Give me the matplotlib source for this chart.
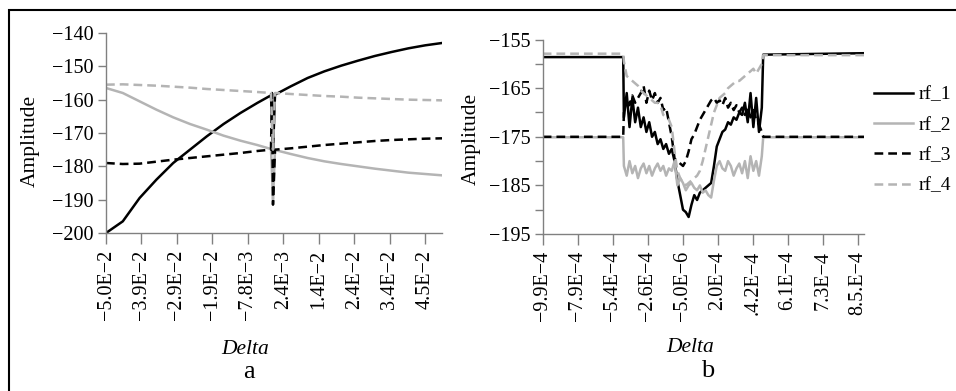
import numpy as np
import matplotlib
matplotlib.use("Agg")
import matplotlib.pyplot as plt
from matplotlib.patches import Rectangle

# --- Style ---
plt.rcParams['font.family'] = ['Liberation Serif', 'DejaVu Serif']
plt.rcParams['axes.unicode_minus'] = True
BLACK = '#000000'
GRAY = '#b4b4b4'
SPINE = '#808080'
LABELS = ["rf_1", "rf_2", "rf_3", "rf_4"]

# --- Panel a data (Delta, Amplitude) ---
a_x = [-0.05, -0.045, -0.04, -0.035, -0.03, -0.025, -0.02, -0.015, -0.01, -0.005,
       -0.0009, -0.0006, -0.0003, 0.0003,
       0.005, 0.01, 0.015, 0.02, 0.025, 0.03, 0.035, 0.04, 0.045, 0.05]
a_rf1 = [-200, -196.5, -189.5, -184, -179, -175, -171, -167.3, -164, -161,
         -158.7, -166, -175.5, -158.5,
         -156, -153.5, -151.5, -149.8, -148.3, -146.9, -145.7, -144.6, -143.7, -143]
a_rf2 = [-156.5, -158, -160.5, -163, -165.3, -167.3, -169, -170.8, -172.3, -173.6,
         -174.8, -182, -190, -175.1,
         -176.3, -177.5, -178.5, -179.3, -180, -180.7, -181.3, -181.9, -182.3, -182.7]
a_rf3 = [-179, -179.3, -179.2, -178.6, -178, -177.5, -177, -176.5, -176, -175.4,
         -175, -158, -191.5, -175,
         -174.6, -174.1, -173.6, -173.2, -172.8, -172.4, -172.1, -171.9, -171.7, -171.6]
a_rf4 = [-155.5, -155.4, -155.6, -155.8, -156.1, -156.4, -156.8, -157.1, -157.4, -157.7,
         -158, -166, -175, -158,
         -158.3, -158.6, -158.9, -159.1, -159.4, -159.6, -159.8, -160, -160.1, -160.2]
a_ticks = np.linspace(-0.05, 0.045, 10)
a_ticklabels = ["−5.0E−2", "−3.9E−2", "−2.9E−2", "−1.9E−2", "−7.8E−3",
                "2.4E−3", "1.4E−2", "2.4E−2", "3.4E−2", "4.5E−2"]

# --- Panel b data (sample position along categorical Delta axis) ---
b_flat_left = [0.0, 2.30]
b_flat_right = [6.30, 9.18]
b_mid_x = np.linspace(2.32, 6.26, 50)
b_rf1_mid = [-171, -166, -173, -167, -172, -169, -173, -171, -174, -172,
             -175, -174, -176.5, -175.5, -177.5, -176.5, -178.5, -177.5, -180, -184,
             -187, -190, -190.5, -191.5, -189, -187, -188, -186.5, -186, -185.5,
             -185, -184.5, -181, -177, -175.5, -174, -173.5, -172, -172.5, -171,
             -171.5, -170, -170.5, -168, -172, -166, -173, -167, -174, -169]
b_rf2_mid = [-181, -183, -180, -182.5, -181, -183.5, -181.5, -180.5, -182.5, -181,
             -183, -181.5, -180.5, -182, -181, -183, -181.5, -182, -180, -185,
             -183.5, -184.5, -186, -185, -184.5, -185.5, -186, -185, -186.5, -186,
             -187, -187.5, -184, -181, -180, -181.5, -182, -180, -181, -183,
             -181.5, -180.5, -182.5, -180, -183.5, -179, -182, -180, -183, -179]
b_rf3_mid = [-170, -167, -168.5, -166.5, -168, -167, -166, -164.5, -168, -165.5,
             -167.5, -166, -168, -167, -169.5, -169, -172, -175, -179.5, -180,
             -180.5, -181, -180, -178, -175.5, -174.5, -173, -171.5, -170.5, -169.5,
             -168.5, -167.5, -167, -168, -167.5, -168.5, -167, -169, -168, -169.5,
             -168.5, -170, -169, -170.5, -169, -171, -169.5, -171.5, -172.5, -174]
b_rf4_mid = [-159.5, -162.5, -163, -163.5, -164, -164.5, -165.5, -166, -166.5, -167,
             -167.5, -168, -168, -168.5, -170.5, -171, -171.5, -173, -178, -182,
             -183.5, -184.5, -185, -184.5, -184, -183.5, -183, -182, -180, -177.5,
             -175, -172.5, -170, -168.5, -167, -166.5, -166, -165, -164.5, -164,
             -163.5, -163.5, -163, -162.5, -162, -161.5, -161, -162, -161, -160]
b_rf1_flat = ([-158.6, -158.6], [-158.1, -157.8])
b_rf2_flat = ([-175.1, -175.1], [-175.1, -175.1])
b_rf3_flat = ([-175.0, -175.0], [-175.0, -175.0])
b_rf4_flat = ([-157.9, -157.9], [-158.2, -158.2])
b_ticks = np.arange(10)
b_ticklabels = ["−9.9E−4", "−7.9E−4", "−5.4E−4", "−2.6E−4", "−5.0E−6",
                "2.0E−4", ".4.2E−4", "6.1E−4", "7.3E−4", "8.5.E−4"]

W, H = 956, 391
fig = plt.figure(figsize=(W / 100, H / 100), dpi=100)

# outer frame
fig.patches.append(Rectangle((9 / W, -0.1), 1.0, (H - 10) / H + 0.1, transform=fig.transFigure,
                             fill=False, edgecolor='black', linewidth=1.5))

styles = [dict(color=BLACK, lw=1.8, ls='-'),
          dict(color=GRAY, lw=1.8, ls='-'),
          dict(color=BLACK, lw=1.8, ls=(0, (3.5, 2))),
          dict(color=GRAY, lw=1.8, ls=(0, (3.5, 2)))]


def style_axes(ax):
    for s in ['top', 'right']:
        ax.spines[s].set_visible(False)
    for s in ['left', 'bottom']:
        ax.spines[s].set_color(SPINE)
        ax.spines[s].set_linewidth(1.0)
    ax.tick_params(axis='both', colors=SPINE, labelcolor='black', labelsize=14.5, width=1.0)
    ax.tick_params(axis='y', length=6, pad=3)
    ax.tick_params(axis='x', length=8, pad=4)


# --- Panel a ---
ax1 = fig.add_axes([106 / W, (H - 233) / H, 336 / W, 200 / H])
for ys, st in zip([a_rf1, a_rf2, a_rf3, a_rf4], styles):
    ax1.plot(a_x, ys, **st)
ax1.set_xlim(-0.05, 0.05)
ax1.set_ylim(-200, -140)
ax1.set_yticks(np.arange(-200, -139, 10))
ax1.set_xticks(a_ticks)
ax1.set_xticklabels(a_ticklabels, rotation=90)
style_axes(ax1)
ax1.set_ylabel("Amplitude", fontsize=15.5)
ax1.yaxis.set_label_coords(-0.197, 0.46)

# --- Panel b ---
ax2 = fig.add_axes([542.7 / W, (H - 234) / H, 321.3 / W, 194.4 / H])
b_series = [(b_rf1_mid, b_rf1_flat), (b_rf2_mid, b_rf2_flat),
            (b_rf3_mid, b_rf3_flat), (b_rf4_mid, b_rf4_flat)]
for (mid, flat), st, lab in zip(b_series, styles, LABELS):
    xs = list(b_flat_left) + list(b_mid_x) + list(b_flat_right)
    ys = list(flat[0]) + list(mid) + list(flat[1])
    ax2.plot(xs, ys, label=lab, **st)
ax2.set_xlim(0, 9.18)
ax2.set_ylim(-195, -155)
ax2.set_yticks(np.arange(-195, -154, 5))
ax2.set_yticklabels([str(v).replace('-', '−') if v % 10 == 5 else '' for v in range(-195, -154, 5)])
ax2.set_xticks(b_ticks)
ax2.set_xticklabels(b_ticklabels, rotation=90)
style_axes(ax2)
ax2.set_ylabel("Amplitude", fontsize=15.5)
ax2.yaxis.set_label_coords(-0.193, 0.49)

fig.legend(loc='upper left', bbox_to_anchor=(874 / W, 1 - 86 / H), frameon=False,
           fontsize=14, handlelength=2.0, handletextpad=0.3, labelspacing=0.65,
           borderaxespad=0, borderpad=0)

# axis titles and panel letters
fig.text(245 / W, 1 - 349 / H, "Delta", style='italic', fontsize=15.5, ha='center', va='center')
fig.text(249 / W, 1 - 372 / H, "a", fontsize=19, ha='center', va='center')
fig.text(690 / W, 1 - 347 / H, "Delta", style='italic', fontsize=15.5, ha='center', va='center')
fig.text(708 / W, 1 - 371 / H, "b", fontsize=19, ha='center', va='center')

fig.savefig("out.png", dpi=100)
